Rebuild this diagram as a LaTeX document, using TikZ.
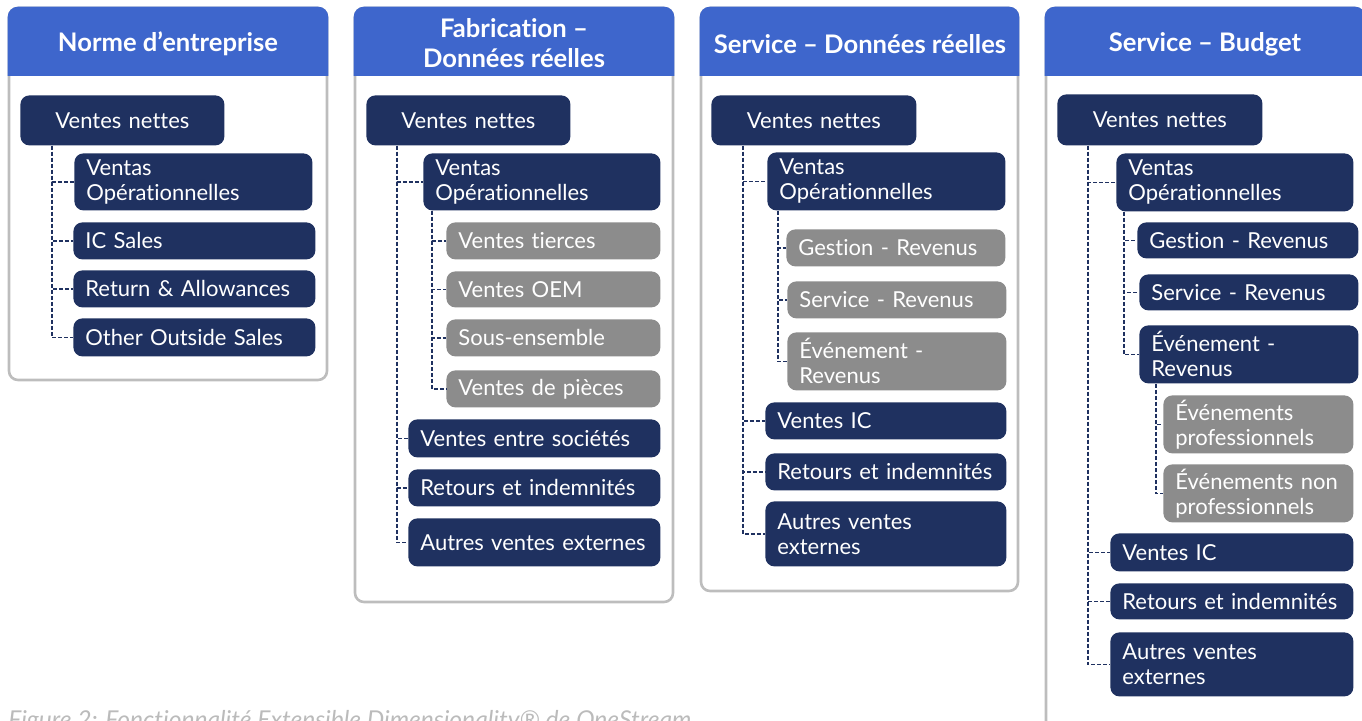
\documentclass[tikz,border=0pt]{standalone}
\usepackage{fontspec}
\setmainfont{Lato}[Ligatures=NoCommon]
\definecolor{BleuEnTete}{HTML}{3E66CC}
\definecolor{BleuNuit}{HTML}{1F3160}
\definecolor{GrisBoite}{HTML}{8C8C8C}
\definecolor{GrisCadre}{HTML}{BDBDBD}
\definecolor{GrisLegende}{HTML}{BBBBBB}
\usetikzlibrary{positioning}
\begin{document}
\begin{tikzpicture}
	[x=0.5pt, y=-0.5pt,
	every node/.style = {shape=rectangle, rounded corners=4.5pt, inner xsep=6pt, inner ysep=0pt,
		text=white, font=\fontsize{11}{12.5}\selectfont, anchor=north west, align=left},
	nuit/.style = {fill=BleuNuit},
	gris/.style = {fill=GrisBoite},
	dim/.style n args={2}{minimum width=#1*0.5pt, minimum height=#2*0.5pt, text width=#1*0.5pt-12pt},
	cadre/.style = {draw=GrisCadre, line width=1.3pt, rounded corners=4.5pt},
	entete/.style = {fill=BleuEnTete, draw=BleuEnTete, line width=1.3pt, rounded corners=4.5pt},
	titre/.style = {anchor=center, align=center, rounded corners=0pt, font=\bfseries\fontsize{12.8}{15}\selectfont},
	lien/.style = {draw=BleuNuit, line width=0.7pt, dash pattern=on 2pt off 1pt}]
	\useasboundingbox (0,0) rectangle (1362,721);
	\clip (0,0) rectangle (1362,721);
	% cadres et en-tetes
	\foreach \xa/\xb/\yb in {9/327/380, 355/673/602, 701/1018/591, 1046/1364/780} {
		\draw[cadre] (\xa,8) rectangle (\xb,\yb);
		\begin{scope}
			\clip (\xa-5,0) rectangle (\xb+5,76);
			\filldraw[entete] (\xa,8) rectangle (\xb,\yb);
		\end{scope}
	}
	\node[titre] (tA) at (168,44) {Norme d’entreprise};
	\node[titre] (tB) at (514,43.5) {Fabrication –\\Données réelles};
	\node[titre] (tC) at (860,44) {Service – Données réelles};
	\node[titre] (tD) at (1205,44) {Service – Budget};

	% Norme d'entreprise
	\node[nuit, dim={204}{50}, align=center] (vnA) at (20,95) {Ventes nettes};
	\node[nuit, dim={238}{57}] (voA) at (74,153) {Ventas\\Opérationnelles};
	\node[nuit, dim={242}{37}] (icA) at (73,222) {IC Sales};
	\node[nuit, dim={242}{37}] (raA) at (73,270) {Return \& Allowances};
	\node[nuit, dim={242}{38}] (osA) at (73,318) {Other Outside Sales};
	\coordinate (trA) at ([xshift=16pt]vnA.south west);
	\foreach \n in {voA, icA, raA, osA} \draw[lien] (trA) |- (\n.west);

	% Fabrication - donnees reelles
	\node[nuit, dim={204}{50}, align=center] (vnB) at (366,95) {Ventes nettes};
	\node[nuit, dim={237}{57}] (voB) at (423,153) {Ventas\\Opérationnelles};
	\node[gris, dim={214}{37}] (vtB) at (446,222) {Ventes tierces};
	\node[gris, dim={214}{36}] (oemB) at (446,271) {Ventes OEM};
	\node[gris, dim={214}{37}] (seB) at (446,319) {Sous-ensemble};
	\node[gris, dim={214}{37}] (vpB) at (446,370) {Ventes de pièces};
	\node[nuit, dim={252}{38}] (vsB) at (408,419) {Ventes entre sociétés};
	\node[nuit, dim={252}{37}] (riB) at (408,469) {Retours et indemnités};
	\node[nuit, dim={252}{48}] (aveB) at (408,518) {Autres ventes externes};
	\coordinate (trB) at ([xshift=15.5pt]vnB.south west);
	\coordinate (sbB) at ([xshift=4.5pt]voB.south west);
	\foreach \n in {voB, vsB, riB, aveB} \draw[lien] (trB) |- (\n.west);
	\foreach \n in {vtB, oemB, seB, vpB} \draw[lien] (sbB) |- (\n.west);

	% Service - donnees reelles
	\node[nuit, dim={205}{50}, align=center] (vnC) at (711,95) {Ventes nettes};
	\node[nuit, dim={238}{58}] (voC) at (767,152) {Ventas\\Opérationnelles};
	\node[gris, dim={219}{37}] (grC) at (786,229) {Gestion - Revenus};
	\node[gris, dim={219}{37}] (srC) at (787,281) {Service - Revenus};
	\node[gris, dim={219}{58}] (erC) at (787,332) {Événement -\\Revenus};
	\node[nuit, dim={241}{37}] (icC) at (765,402) {Ventes IC};
	\node[nuit, dim={241}{37}] (riC) at (765,453) {Retours et indemnités};
	\node[nuit, dim={241}{65}] (aveC) at (765,501) {Autres ventes\\externes};
	\coordinate (trC) at ([xshift=16pt]vnC.south west);
	\coordinate (sbC) at ([xshift=5.5pt]voC.south west);
	\foreach \n in {voC, icC, riC, aveC} \draw[lien] (trC) |- (\n.west);
	\foreach \n in {grC, srC, erC} \draw[lien] (sbC) |- (\n.west);

	% Service - budget
	\node[nuit, dim={205}{51}, align=center] (vnD) at (1057,94) {Ventes nettes};
	\node[nuit, dim={237}{58}] (voD) at (1116,153) {Ventas\\Opérationnelles};
	\node[nuit, dim={221}{36}] (grD) at (1137,222) {Gestion - Revenus};
	\node[nuit, dim={219}{36}] (srD) at (1139,274) {Service - Revenus};
	\node[nuit, dim={219}{58}] (erD) at (1139,325) {Événement -\\Revenus};
	\node[gris, dim={190}{58}] (epD) at (1163,395) {Événements\\professionnels};
	\node[gris, dim={190}{58}] (enD) at (1163,464) {Événements non\\professionnels};
	\node[nuit, dim={243}{38}] (icD) at (1110,533) {Ventes IC};
	\node[nuit, dim={243}{36}] (riD) at (1110,583) {Retours et indemnités};
	\node[nuit, dim={243}{64}] (aveD) at (1110,632) {Autres ventes\\externes};
	\coordinate (trD) at ([xshift=15.5pt]vnD.south west);
	\coordinate (sbD) at ([xshift=4pt]voD.south west);
	\coordinate (ssD) at ([xshift=8.5pt]erD.south west);
	\foreach \n in {voD, icD, riD, aveD} \draw[lien] (trD) |- (\n.west);
	\foreach \n in {grD, srD, erD} \draw[lien] (sbD) |- (\n.west);
	\foreach \n in {epD, enD} \draw[lien] (ssD) |- (\n.west);

	\node[anchor=base west, inner sep=0pt, rounded corners=0pt, text=GrisLegende,
		font=\itshape\fontsize{12.3}{14}\selectfont] (legende) at (8,729)
		{Figure 2: Fonctionnalité Extensible Dimensionality® de OneStream};
\end{tikzpicture}
\end{document}
